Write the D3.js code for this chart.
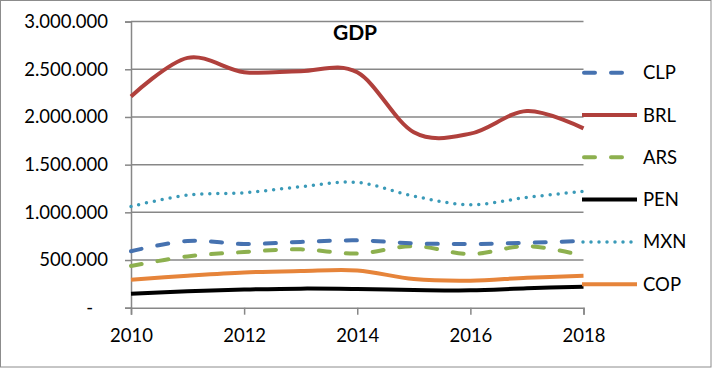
<!DOCTYPE html>
<html>
<head>
<meta charset="utf-8">
<script src="https://cdn.jsdelivr.net/npm/d3@7"></script>
<style>
  body { margin: 0; background: #fff; }
  svg text { font-family: Lato, "Open Sans", sans-serif; fill: #000; }
</style>
</head>
<body>
<div id="chart"></div>
<script>
// values (USD, thousands separator ".")
const years = [2010, 2011, 2012, 2013, 2014, 2015, 2016, 2017, 2018]
const clp = [592000, 700000, 668000, 690000, 706000, 675000, 668000, 681000, 700000]
const brl = [2215000, 2620000, 2470000, 2480000, 2468000, 1840000, 1825000, 2062000, 1880000]
const ars = [438000, 538000, 584000, 612000, 568000, 646000, 562000, 646000, 545000]
const pen = [147000, 172000, 190000, 200000, 196000, 186000, 182000, 204000, 220000]
const mxn = [1062000, 1181000, 1205000, 1268000, 1314000, 1170000, 1080000, 1157000, 1220000]
const cop = [292000, 335000, 370000, 384000, 390000, 300000, 283000, 314000, 334000]
const yTicks = [0, 500000, 1000000, 1500000, 2000000, 2500000, 3000000]
const xTicks = [2010, 2012, 2014, 2016, 2018]

const series = [
    { name: "CLP", values: clp, color: "#4672b0", width: 4, dash: "11 16", cap: "round" },
    { name: "BRL", values: brl, color: "#b0403c", width: 4, dash: null, cap: "butt" },
    { name: "ARS", values: ars, color: "#8db04f", width: 4, dash: "11 16", cap: "round" },
    { name: "PEN", values: pen, color: "#000000", width: 4, dash: null, cap: "butt" },
    { name: "MXN", values: mxn, color: "#3a9ab8", width: 3.5, dash: "0 8", cap: "round" },
    { name: "COP", values: cop, color: "#e6843a", width: 4, dash: null, cap: "butt" }
]

const W = 712, H = 368
const margin = { top: 21.6, left: 131, right: 128.5, bottom: 60.3 }
const grid = "#878787"

const svg = d3.select("#chart").append("svg")
    .attr("width", W)
    .attr("height", H)

svg.append("rect")
    .attr("x", 0.5).attr("y", 0.5)
    .attr("width", W - 1.5).attr("height", H - 1.5)
    .attr("fill", "#fff")
    .attr("stroke", "#8c8c8c")

const x = d3.scaleLinear()
    .domain([2010, 2018])
    .range([margin.left, W - margin.right])
const y = d3.scaleLinear()
    .domain([0, 3000000])
    .range([H - margin.bottom, margin.top])

const loc = d3.formatLocale({ decimal: ",", thousands: ".", grouping: [3], currency: ["", ""] })
const fmt = loc.format(",d")

// gridlines
svg.append("g")
    .selectAll("line")
    .data(yTicks.filter(d => d > 0))
    .join("line")
    .attr("x1", x(2010)).attr("x2", x(2018))
    .attr("y1", d => y(d)).attr("y2", d => y(d))
    .attr("stroke", grid)
    .attr("stroke-width", 1.5)

// y axis
const yAxis = svg.append("g")
    .attr("transform", `translate(${x(2010)},0)`)
    .call(d3.axisLeft(y).tickValues(yTicks).tickSize(6).tickPadding(17)
        .tickFormat(d => d === 0 ? "-" : fmt(d)))
yAxis.select(".domain").attr("stroke", grid).attr("stroke-width", 1.5)
yAxis.selectAll(".tick line").attr("stroke", grid).attr("stroke-width", 1.5)
yAxis.selectAll("text")
    .style("font-size", "18.5px")
    .style("font-family", "Lato, sans-serif")
yAxis.selectAll(".tick")
    .filter(d => d === 0)
    .select("text")
    .attr("x", -38)

// x axis
const xAxis = svg.append("g")
    .attr("transform", `translate(0,${y(0)})`)
    .call(d3.axisBottom(x).tickValues(xTicks).tickSize(7).tickPadding(14)
        .tickFormat(d3.format("d")))
xAxis.select(".domain").attr("stroke", grid).attr("stroke-width", 1.5)
xAxis.selectAll(".tick line").attr("stroke", grid).attr("stroke-width", 1.5)
xAxis.selectAll("text")
    .style("font-size", "18.5px")
    .style("font-family", "Lato, sans-serif")

// lines
const line = d3.line()
    .x((d, i) => x(years[i]))
    .y(d => y(d))
    .curve(d3.curveCatmullRom.alpha(0))

const drawOrder = ["ARS", "CLP", "COP", "PEN", "MXN", "BRL"]
drawOrder.forEach(name => {
    const s = series.find(d => d.name === name)
    svg.append("path")
        .datum(s.values)
        .attr("d", line)
        .attr("fill", "none")
        .attr("stroke", s.color)
        .attr("stroke-width", s.width)
        .attr("stroke-dasharray", s.dash)
        .attr("stroke-linecap", s.cap)
})

// title
svg.append("text")
    .attr("x", 355)
    .attr("y", 40)
    .attr("text-anchor", "middle")
    .style("font-size", "21px")
    .style("font-weight", "bold")
    .text("GDP")

// legend
const legend = svg.append("g")
    .selectAll("g")
    .data(series)
    .join("g")
    .attr("transform", (d, i) => `translate(582,${72.7 + i * 42.3})`)

legend.append("line")
    .attr("x1", d => d.dash ? (d.cap === "round" && d.dash !== "0 8" ? 2 : 1) : 0)
    .attr("x2", d => d.dash === "0 8" ? 52 : (d.dash ? 44 : 55))
    .attr("stroke", d => d.color)
    .attr("stroke-width", d => d.width)
    .attr("stroke-dasharray", d => d.dash)
    .attr("stroke-linecap", d => d.cap)

legend.append("text")
    .attr("x", 61)
    .attr("y", 6.5)
    .style("font-size", "18.5px")
    .text(d => d.name)
</script>
</body>
</html>
